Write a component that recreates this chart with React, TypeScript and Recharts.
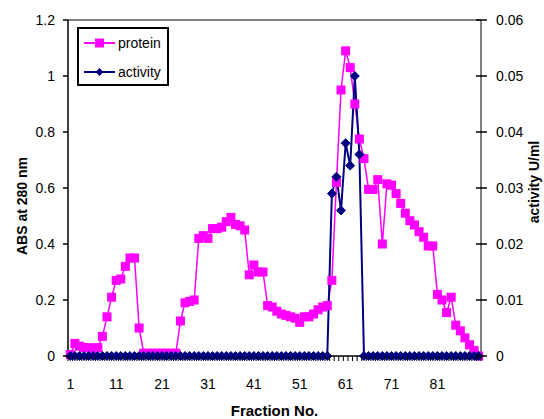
import React from 'react';
import { ComposedChart, Line, XAxis, YAxis, Legend, ReferenceLine } from 'recharts';

const fractions = [
  1, 2, 3, 4, 5, 6, 7, 8, 9, 10, 11, 12, 13, 14, 15, 16, 17, 18, 19, 20,
  21, 22, 23, 24, 25, 26, 27, 28, 29, 30, 31, 32, 33, 34, 35, 36, 37, 38, 39, 40,
  41, 42, 43, 44, 45, 46, 47, 48, 49, 50, 51, 52, 53, 54, 55, 56, 57, 58, 59, 60,
  61, 62, 63, 64, 65, 66, 67, 68, 69, 70, 71, 72, 73, 74, 75, 76, 77, 78, 79, 80,
  81, 82, 83, 84, 85, 86, 87, 88, 89, 90,
];

const protein = [
  0.005, 0.045, 0.035, 0.03, 0.03, 0.025, 0.03, 0.07, 0.14, 0.21,
  0.27, 0.275, 0.32, 0.35, 0.35, 0.10, 0.01, 0.01, 0.01, 0.01,
  0.01, 0.01, 0.01, 0.01, 0.125, 0.19, 0.195, 0.20, 0.42, 0.43,
  0.42, 0.455, 0.455, 0.46, 0.48, 0.495, 0.47, 0.465, 0.45, 0.29,
  0.325, 0.30, 0.30, 0.18, 0.175, 0.16, 0.15, 0.145, 0.14, 0.135,
  0.12, 0.14, 0.14, 0.15, 0.165, 0.175, 0.18, 0.27, 0.62, 0.95,
  1.09, 1.03, 0.90, 0.775, 0.705, 0.595, 0.595, 0.63, 0.40, 0.615,
  0.61, 0.58, 0.545, 0.51, 0.483, 0.468, 0.444, 0.424, 0.393, 0.393,
  0.22, 0.20, 0.155, 0.21, 0.11, 0.09, 0.065, 0.04, 0.02, 0.0,
];

const activity = [
  0, 0, 0, 0, 0, 0, 0, 0, 0, 0,
  0, 0, 0, 0, 0, 0, 0, 0, 0, 0,
  0, 0, 0, 0, 0, 0, 0, 0, 0, 0,
  0, 0, 0, 0, 0, 0, 0, 0, 0, 0,
  0, 0, 0, 0, 0, 0, 0, 0, 0, 0,
  0, 0, 0, 0, 0, 0, 0, 0.029, 0.032, 0.026,
  0.038, 0.034, 0.050, 0.036, 0, 0, 0, 0, 0, 0,
  0, 0, 0, 0, 0, 0, 0, 0, 0, 0,
  0, 0, 0, 0, 0, 0, 0, 0, 0, 0,
];

const seriesOrder = ['protein', 'activity'];
const xTickLabels = [1, 11, 21, 31, 41, 51, 61, 71, 81];
const leftTicks = [0, 0.2, 0.4, 0.6, 0.8, 1, 1.2];
const rightTicks = [0, 0.01, 0.02, 0.03, 0.04, 0.05, 0.06];

const data = fractions.map((f, i) => ({ fraction: f, protein: protein[i], activity: activity[i] }));
const boundaryTicks = [...fractions.map((f) => f - 0.5), fractions[fractions.length - 1] + 0.5];
const xTicks = [...boundaryTicks, ...xTickLabels].sort((a, b) => a - b);

const FONT = '"Liberation Sans", Arial, sans-serif';
const PINK = '#FF00FF';
const NAVY = '#000080';

const XTick = (props: any) => {
  const { x, y, payload } = props;
  const v = payload.value;
  if (Number.isInteger(v)) {
    return (
      <text x={x} y={y + 33} textAnchor="middle" fontSize={14} fill="#000" fontFamily={FONT}>
        {v}
      </text>
    );
  }
  return <line x1={x} x2={x} y1={y} y2={y + 5} stroke="#000" strokeWidth={1} />;
};

const LeftTick = (props: any) => {
  const { x, y, payload } = props;
  return (
    <g>
      <line x1={x - 5} x2={x} y1={y} y2={y} stroke="#000" strokeWidth={1.5} />
      <text x={x - 13} y={y} dy={5} textAnchor="end" fontSize={14} fill="#000" fontFamily={FONT}>
        {String(payload.value)}
      </text>
    </g>
  );
};

const RightTick = (props: any) => {
  const { x, y, payload } = props;
  return (
    <g>
      <line x1={x - 5} x2={x + 6} y1={y} y2={y} stroke="#000" strokeWidth={1.5} />
      <text x={x + 15} y={y} dy={5} textAnchor="start" fontSize={14} fill="#000" fontFamily={FONT}>
        {String(payload.value)}
      </text>
    </g>
  );
};

const SquareDot = (props: any) => {
  const { cx, cy, index } = props;
  if (cx == null || cy == null) return <g key={`ps-${index}`} />;
  return <rect key={`ps-${index}`} x={cx - 4.5} y={cy - 4.5} width={9} height={9} fill={PINK} />;
};

const DiamondDot = (props: any) => {
  const { cx, cy, index } = props;
  if (cx == null || cy == null) return <g key={`ad-${index}`} />;
  const s = 4.5;
  return (
    <polygon
      key={`ad-${index}`}
      points={`${cx},${cy - s} ${cx + s},${cy} ${cx},${cy + s} ${cx - s},${cy}`}
      fill={NAVY}
      stroke={NAVY}
      strokeWidth={1}
    />
  );
};

const LegendBox = (props: any) => {
  const payload = [...(props.payload || [])].sort(
    (a: any, b: any) => seriesOrder.indexOf(a.dataKey) - seriesOrder.indexOf(b.dataKey)
  );
  return (
    <div
      style={{
        width: 92,
        height: 59,
        border: '2px solid #000',
        background: '#fff',
        boxSizing: 'border-box',
      }}
    >
      <svg width={88} height={55} style={{ display: 'block' }}>
        {payload.map((entry: any, i: number) => {
          const cy = 14 + i * 29;
          const isProtein = entry.dataKey === 'protein';
          const color = isProtein ? PINK : NAVY;
          return (
            <g key={entry.value}>
              <line x1={5} x2={36} y1={cy} y2={cy} stroke={color} strokeWidth={2} />
              {isProtein ? (
                <rect x={16} y={cy - 4.5} width={9} height={9} fill={PINK} />
              ) : (
                <polygon
                  points={`20.5,${cy - 4} 24.5,${cy} 20.5,${cy + 4} 16.5,${cy}`}
                  fill={NAVY}
                />
              )}
              <text x={39} y={cy + 5} fontSize={14} fill="#000" fontFamily={FONT}>
                {entry.value}
              </text>
            </g>
          );
        })}
      </svg>
    </div>
  );
};

export default function App() {
  return (
    <div style={{ position: 'absolute', left: 0, top: 0, background: '#fff' }}>
      <ComposedChart
        width={544}
        height={419}
        data={data}
        margin={{ top: 20, right: 0, bottom: 0, left: 0 }}
      >
        <XAxis
          dataKey="fraction"
          type="number"
          domain={[0.5, 90.5]}
          ticks={xTicks}
          interval={0}
          tickSize={0}
          tickMargin={0}
          tickLine={false}
          tick={<XTick />}
          height={63}
          axisLine={{ stroke: '#000', strokeWidth: 1.5 }}
          xAxisId="x"
          label={{
            value: 'Fraction No.',
            position: 'insideBottom',
            offset: 3,
            style: { fontSize: 15, fontWeight: 'bold', fill: '#000', fontFamily: FONT },
          }}
        />
        <YAxis
          yAxisId="left"
          orientation="left"
          width={68}
          domain={[0, 1.2]}
          ticks={leftTicks}
          interval={0}
          tickSize={0}
          tickMargin={0}
          tickLine={false}
          tick={<LeftTick />}
          axisLine={{ stroke: '#000', strokeWidth: 1.5 }}
          label={() => (
            <text
              x={22}
              y={206}
              transform="rotate(-90 22 206)"
              textAnchor="middle"
              dominantBaseline="central"
              fontSize={14}
              fontWeight="bold"
              fill="#000"
              fontFamily={FONT}
            >
              ABS at 280 nm
            </text>
          )}
        />
        <YAxis
          yAxisId="right"
          orientation="right"
          width={63}
          domain={[0, 0.06]}
          ticks={rightTicks}
          interval={0}
          tickSize={0}
          tickMargin={0}
          tickLine={false}
          tick={<RightTick />}
          axisLine={{ stroke: '#808080', strokeWidth: 2 }}
          label={() => (
            <text
              x={534}
              y={182}
              transform="rotate(-90 534 182)"
              textAnchor="middle"
              dominantBaseline="central"
              fontSize={14}
              fontWeight="bold"
              fill="#000"
              fontFamily={FONT}
            >
              activity U/ml
            </text>
          )}
        />
        <ReferenceLine y={1.2} yAxisId="left" xAxisId="x" stroke="#808080" strokeWidth={2} />
        <Legend
          layout="vertical"
          align="center"
          verticalAlign="middle"
          content={<LegendBox />}
          wrapperStyle={{ position: 'absolute', left: 77, top: 27, width: 92, height: 59 }}
        />
        <Line
          name="protein"
          dataKey="protein"
          yAxisId="left"
          xAxisId="x"
          stroke={PINK}
          strokeWidth={1.5}
          dot={SquareDot}
          activeDot={false}
          isAnimationActive={false}
        />
        <Line
          name="activity"
          dataKey="activity"
          yAxisId="right"
          xAxisId="x"
          stroke={NAVY}
          strokeWidth={2}
          dot={DiamondDot}
          activeDot={false}
          isAnimationActive={false}
        />
      </ComposedChart>
    </div>
  );
}
